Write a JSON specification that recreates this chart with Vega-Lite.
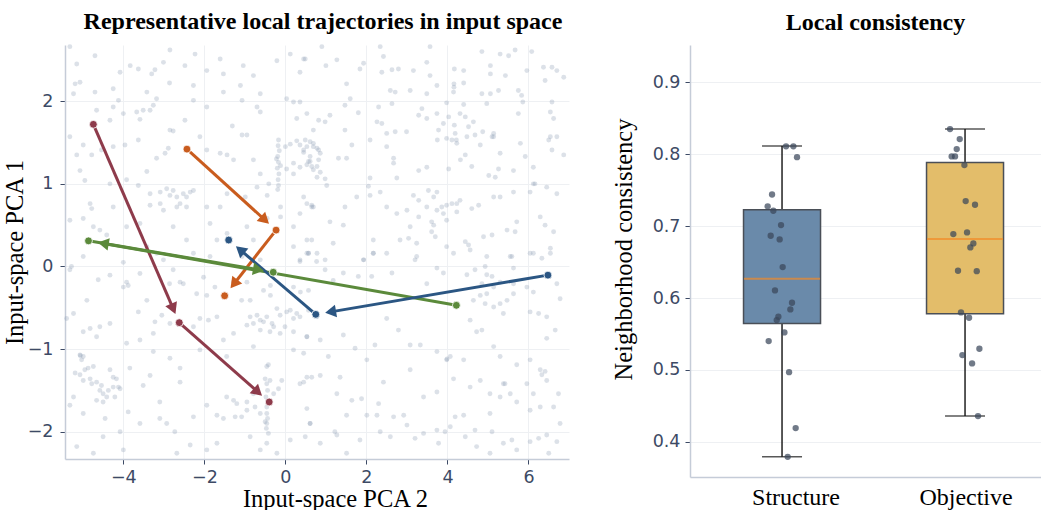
{
  "$schema": "https://vega.github.io/schema/vega-lite/v6.json",
  "padding": {"left": 2, "top": 10, "right": 0, "bottom": 0},
  "background": "white",
  "config": {
    "view": {"stroke": null},
    "axis": {
      "labelFont": "DejaVu Sans", "labelFontSize": 17.5, "labelColor": "#3d4a65", "labelPadding": 4,
      "titleFont": "Liberation Serif", "titleFontSize": 24.5, "titleFontWeight": "normal", "titleColor": "#000000",
      "domainColor": "#c5ccd8", "domainWidth": 1.5, "tickColor": "#3d4a65", "tickSize": 5,
      "gridColor": "#eef0f3", "gridWidth": 1
    },
    "title": {"font": "Liberation Serif", "fontSize": 24, "fontWeight": "bold", "color": "#000000", "offset": 10}
  },
  "datasets": {
    "bg": [
      {"x":-5.32,"y":2.66},{"x":-4.70,"y":2.55},{"x":-5.15,"y":2.45},{"x":-3.83,"y":2.43},{"x":-3.63,"y":2.39},{"x":-4.08,"y":2.35},{"x":-3.30,"y":2.33},{"x":-3.22,"y":2.38},{"x":-2.85,"y":2.62},{"x":-3.01,"y":2.47},{"x":-2.48,"y":2.43},{"x":-2.23,"y":2.57},{"x":-1.94,"y":2.37},{"x":-1.61,"y":2.51},{"x":-1.53,"y":2.33},{"x":-1.04,"y":2.43},{"x":-0.79,"y":2.31},{"x":0.12,"y":2.57},{"x":-0.21,"y":2.49},{"x":0.49,"y":2.51},{"x":0.36,"y":2.35},
      {"x":-5.07,"y":2.23},{"x":-5.19,"y":2.21},{"x":-5.23,"y":2.09},{"x":-4.70,"y":2.11},{"x":-4.25,"y":2.15},{"x":-2.86,"y":2.22},{"x":-3.42,"y":2.11},{"x":-2.27,"y":2.19},{"x":-1.53,"y":2.11},{"x":-1.11,"y":2.19},{"x":-0.62,"y":2.09},{"x":0.03,"y":2.03},{"x":0.20,"y":1.99},{"x":0.36,"y":1.99},
      {"x":-4.12,"y":2.01},{"x":-3.18,"y":2.03},{"x":-3.26,"y":1.95},{"x":-3.34,"y":1.89},{"x":-3.51,"y":1.89},{"x":-3.67,"y":1.87},{"x":-4.25,"y":1.93},{"x":-4.00,"y":1.85},{"x":-4.66,"y":1.89},{"x":-2.27,"y":2.01},{"x":-1.94,"y":1.93},{"x":-1.07,"y":2.01},{"x":-0.70,"y":1.93},{"x":-0.62,"y":1.87},{"x":0.28,"y":1.79},{"x":0.53,"y":1.85},
      {"x":-3.59,"y":1.78},{"x":-4.33,"y":1.77},{"x":-2.48,"y":1.77},{"x":-2.85,"y":1.65},{"x":-2.77,"y":1.64},{"x":-1.31,"y":1.70},{"x":-1.07,"y":1.59},{"x":-0.95,"y":1.59},
      {"x":-5.32,"y":1.57},{"x":-4.99,"y":1.47},{"x":-5.15,"y":1.35},{"x":-4.78,"y":1.35},{"x":-4.25,"y":1.45},{"x":-4.54,"y":1.41},{"x":-3.63,"y":1.53},{"x":-3.96,"y":1.47},{"x":-3.18,"y":1.31},{"x":-3.42,"y":1.15},{"x":-2.89,"y":1.43},{"x":-2.97,"y":1.37},{"x":-2.11,"y":1.57},{"x":-1.94,"y":1.41},{"x":-1.61,"y":1.37},{"x":-1.44,"y":1.35},{"x":-1.28,"y":1.29},{"x":-0.79,"y":1.29},
      {"x":-0.17,"y":1.53},{"x":-0.18,"y":1.46},{"x":-0.15,"y":1.40},{"x":-0.19,"y":1.33},{"x":-0.17,"y":1.26},{"x":-0.20,"y":1.19},{"x":-0.16,"y":1.12},{"x":-0.18,"y":1.05},{"x":-0.17,"y":0.98},{"x":-0.19,"y":0.93},{"x":-0.22,"y":1.30},{"x":-0.12,"y":1.22},
      {"x":0.0,"y":1.45},{"x":0.12,"y":1.48},{"x":0.28,"y":1.52},{"x":0.36,"y":1.47},{"x":0.53,"y":1.45},{"x":0.69,"y":1.49},{"x":0.78,"y":1.43},{"x":0.45,"y":1.38},{"x":0.20,"y":1.25},{"x":0.36,"y":1.20},{"x":0.53,"y":1.23},{"x":0.69,"y":1.17},{"x":0.61,"y":1.27},{"x":0.78,"y":1.21},
      {"x":-0.62,"y":1.12},{"x":-0.41,"y":1.0},{"x":0.03,"y":1.18},{"x":0.2,"y":1.12},{"x":0.53,"y":0.76},{"x":0.65,"y":0.72},
      {"x":-5.07,"y":1.16},{"x":-4.95,"y":1.04},{"x":-4.82,"y":0.76},{"x":-4.33,"y":1.0},{"x":-3.92,"y":1.05},{"x":-3.63,"y":0.98},{"x":-4.25,"y":0.72},{"x":-4.78,"y":0.70},
      {"x":-3.34,"y":0.88},{"x":-3.09,"y":0.90},{"x":-2.93,"y":0.94},{"x":-2.85,"y":0.86},{"x":-2.77,"y":0.92},{"x":-2.68,"y":0.84},{"x":-2.60,"y":0.76},{"x":-2.52,"y":0.88},{"x":-2.44,"y":0.84},{"x":-2.35,"y":0.90},{"x":-2.27,"y":0.92},{"x":-2.44,"y":0.72},{"x":-2.68,"y":0.72},{"x":-3.09,"y":0.76},{"x":-3.01,"y":0.68},{"x":-3.34,"y":0.74},
      {"x":-1.94,"y":0.72},{"x":-1.61,"y":0.72},{"x":-1.44,"y":0.88},{"x":-0.99,"y":0.84},{"x":-0.70,"y":0.96},{"x":-0.45,"y":0.86},{"x":-0.12,"y":0.72},{"x":0.36,"y":0.64},{"x":0.69,"y":0.72},
      {"x":-5.32,"y":0.56},{"x":-4.99,"y":0.58},{"x":-4.74,"y":0.48},{"x":-4.58,"y":0.44},{"x":-4.41,"y":0.38},{"x":-4.99,"y":0.12},{"x":-5.28,"y":0.0},{"x":-3.92,"y":0.48},{"x":-3.59,"y":0.52},{"x":-3.42,"y":0.24},{"x":-3.18,"y":0.16},{"x":-3.01,"y":0.08},{"x":-2.77,"y":0.48},{"x":-2.44,"y":0.32},{"x":-2.27,"y":0.16},{"x":-1.86,"y":0.52},{"x":-1.69,"y":0.32},{"x":-1.44,"y":0.40},{"x":-0.95,"y":0.48},{"x":-0.79,"y":0.32},{"x":-0.45,"y":0.58},{"x":-0.12,"y":0.60},{"x":0.20,"y":0.48},{"x":0.20,"y":0.24},{"x":0.53,"y":0.32},{"x":0.78,"y":0.16},{"x":0.36,"y":0.08},{"x":-1.86,"y":0.12},{"x":-1.07,"y":0.12},{"x":-0.62,"y":0.08},
      {"x":0.90,"y":2.66},{"x":0.45,"y":2.51},{"x":1.0,"y":2.43},{"x":1.27,"y":2.50},{"x":1.93,"y":2.46},{"x":1.84,"y":2.39},{"x":2.34,"y":2.66},{"x":2.42,"y":2.54},{"x":2.38,"y":2.35},{"x":2.63,"y":2.38},{"x":2.79,"y":2.39},{"x":3.16,"y":2.37},{"x":3.49,"y":2.47},{"x":3.57,"y":2.66},{"x":3.57,"y":2.31},{"x":3.74,"y":2.19},{"x":3.49,"y":2.09},
      {"x":4.17,"y":2.39},{"x":4.16,"y":2.21},{"x":4.16,"y":2.17},{"x":4.15,"y":2.11},{"x":4.40,"y":2.37},{"x":4.40,"y":2.22},{"x":4.85,"y":2.60},{"x":5.06,"y":2.43},{"x":5.30,"y":2.57},{"x":5.51,"y":2.55},{"x":5.67,"y":2.62},{"x":5.06,"y":2.33},{"x":5.43,"y":2.31},{"x":5.26,"y":2.13},{"x":5.06,"y":2.09},{"x":5.75,"y":2.13},{"x":5.83,"y":2.07},{"x":5.86,"y":1.99},{"x":6.08,"y":2.60},{"x":5.96,"y":2.37},{"x":6.37,"y":2.41},{"x":6.58,"y":2.41},{"x":6.70,"y":2.37},{"x":6.41,"y":2.25},{"x":6.87,"y":2.29},
      {"x":6.58,"y":1.99},{"x":6.54,"y":1.87},{"x":6.62,"y":1.79},{"x":6.54,"y":1.57},{"x":6.50,"y":1.53},{"x":6.70,"y":1.57},{"x":6.58,"y":1.41},{"x":5.75,"y":1.85},{"x":5.80,"y":1.49},{"x":5.92,"y":1.33},{"x":6.12,"y":1.20},{"x":6.16,"y":1.0},{"x":6.87,"y":1.35},{"x":5.10,"y":1.57},{"x":5.14,"y":1.61},{"x":5.30,"y":1.37},{"x":4.85,"y":2.09},{"x":4.97,"y":1.97},
      {"x":1.51,"y":2.21},{"x":1.60,"y":2.03},{"x":1.47,"y":1.95},{"x":1.80,"y":1.86},
      {"x":1.10,"y":1.83},{"x":0.98,"y":1.75},{"x":0.82,"y":1.77},{"x":0.69,"y":1.65},{"x":0.49,"y":1.53},{"x":0.45,"y":1.41},{"x":0.61,"y":1.51},{"x":0.69,"y":1.45},{"x":0.82,"y":1.41},{"x":0.86,"y":1.37},{"x":0.61,"y":1.33},{"x":0.57,"y":1.27},{"x":0.65,"y":1.21},{"x":0.82,"y":1.29},{"x":0.86,"y":1.14},{"x":0.98,"y":1.06},{"x":1.02,"y":0.98},{"x":0.78,"y":1.08},
      {"x":1.47,"y":1.65},{"x":1.51,"y":1.31},{"x":1.31,"y":1.31},{"x":1.64,"y":1.47},
      {"x":2.26,"y":1.75},{"x":2.38,"y":1.73},{"x":2.50,"y":1.61},{"x":2.71,"y":1.63},{"x":2.99,"y":1.63},{"x":2.09,"y":1.53},{"x":2.50,"y":1.45},{"x":2.67,"y":1.31},{"x":2.67,"y":1.25},{"x":2.59,"y":2.13},{"x":2.71,"y":2.11},{"x":2.63,"y":1.97},{"x":2.30,"y":1.93},{"x":3.08,"y":2.13},{"x":3.29,"y":1.83},
      {"x":3.37,"y":1.91},{"x":3.49,"y":1.79},{"x":3.74,"y":1.85},{"x":3.98,"y":1.98},{"x":4.03,"y":1.81},{"x":3.90,"y":1.73},{"x":3.78,"y":1.65},{"x":3.75,"y":1.53},{"x":3.98,"y":1.55},{"x":4.11,"y":1.53},{"x":4.17,"y":1.71},{"x":4.19,"y":1.61},{"x":4.22,"y":1.53},{"x":4.23,"y":1.49},{"x":4.31,"y":1.85},{"x":4.40,"y":1.96},{"x":4.44,"y":1.81},{"x":4.52,"y":1.69},{"x":4.64,"y":1.75},{"x":4.68,"y":1.59},{"x":4.48,"y":1.57},{"x":4.87,"y":1.63},{"x":4.81,"y":1.47},{"x":5.14,"y":1.57},
      {"x":3.29,"y":1.16},{"x":3.49,"y":1.20},{"x":4.03,"y":1.18},{"x":4.32,"y":1.29},{"x":4.44,"y":1.35},{"x":4.60,"y":1.21},{"x":5.02,"y":1.10},{"x":5.18,"y":1.08},{"x":5.26,"y":1.18},{"x":5.63,"y":1.16},
      {"x":2.09,"y":1.07},{"x":2.75,"y":1.07},{"x":2.05,"y":0.97},{"x":2.09,"y":0.86},
      {"x":2.34,"y":0.90},{"x":2.50,"y":0.72},{"x":2.75,"y":0.64},{"x":3.00,"y":0.68},{"x":3.16,"y":0.86},{"x":3.29,"y":0.80},{"x":3.49,"y":0.72},{"x":3.53,"y":0.92},{"x":3.66,"y":0.84},{"x":3.74,"y":0.90},{"x":3.86,"y":0.72},{"x":3.98,"y":0.74},{"x":4.11,"y":0.76},{"x":4.23,"y":0.76},{"x":3.90,"y":0.64},{"x":3.74,"y":0.68},{"x":3.61,"y":0.54},{"x":3.66,"y":0.50},{"x":3.70,"y":0.36},{"x":3.61,"y":0.42},{"x":3.98,"y":0.56},{"x":4.23,"y":0.66},{"x":4.31,"y":0.80},{"x":4.60,"y":0.70},{"x":4.77,"y":0.74},{"x":3.29,"y":0.60},{"x":3.08,"y":0.48},{"x":3.24,"y":0.28},{"x":2.83,"y":0.32},{"x":3.04,"y":0.34},
      {"x":5.14,"y":0.84},{"x":5.30,"y":0.84},{"x":5.63,"y":0.90},{"x":6.04,"y":0.90},{"x":6.12,"y":1.0},{"x":6.45,"y":0.96},{"x":6.70,"y":0.88},{"x":6.29,"y":0.60},{"x":6.41,"y":0.50},
      {"x":5.10,"y":0.38},{"x":5.47,"y":0.44},{"x":5.67,"y":0.42},{"x":5.59,"y":0.12},{"x":5.71,"y":0.54},{"x":6.04,"y":0.16},{"x":6.33,"y":0.10},{"x":6.54,"y":0.22},{"x":6.62,"y":0.42},
      {"x":0.45,"y":0.84},{"x":0.65,"y":0.74},{"x":1.18,"y":0.28},{"x":1.43,"y":0.50},{"x":1.47,"y":0.72},{"x":1.76,"y":0.84},{"x":2.17,"y":0.32},{"x":2.17,"y":0.16},{"x":1.10,"y":0.54},{"x":0.65,"y":0.32},{"x":0.57,"y":0.16},{"x":0.98,"y":0.08},{"x":1.93,"y":0.08},{"x":2.50,"y":0.16},{"x":3.24,"y":0.12},{"x":3.98,"y":0.24},{"x":4.44,"y":0.30},{"x":4.52,"y":0.26},{"x":4.56,"y":0.20},{"x":4.89,"y":0.36},{"x":4.97,"y":0.12},
      {"x":-4.33,"y":-0.105},{"x":-4.62,"y":-0.16},{"x":-3.92,"y":-0.19},{"x":-3.59,"y":-0.085},{"x":-3.88,"y":-0.23},{"x":-4.00,"y":-0.25},{"x":-2.86,"y":-0.21},{"x":-2.60,"y":-0.19},{"x":-2.52,"y":-0.21},{"x":-2.77,"y":-0.04},{"x":-4.00,"y":0.05},{"x":-2.02,"y":-0.13},{"x":-1.94,"y":-0.35},{"x":-2.19,"y":-0.33},{"x":-1.74,"y":-0.25},{"x":-1.28,"y":-0.19},{"x":-0.95,"y":-0.19},{"x":-1.08,"y":-0.41},{"x":-0.87,"y":-0.41},{"x":-0.54,"y":-0.29},{"x":-0.37,"y":-0.23},{"x":-0.37,"y":-0.35},{"x":0.20,"y":-0.25},{"x":0.37,"y":-0.31},{"x":0.57,"y":-0.29},{"x":0.57,"y":0.16},{"x":0.36,"y":0.06},
      {"x":-5.23,"y":-0.57},{"x":-5.40,"y":-0.63},{"x":-4.82,"y":-0.75},{"x":-4.58,"y":-0.73},{"x":-4.33,"y":-0.69},{"x":-4.99,"y":-0.79},{"x":-3.63,"y":-0.55},{"x":-3.22,"y":-0.67},{"x":-3.05,"y":-0.59},{"x":-2.27,"y":-0.73},{"x":-2.11,"y":-0.63},{"x":-1.90,"y":-0.65},{"x":-1.69,"y":-0.61},{"x":-1.53,"y":-0.89},{"x":-1.28,"y":-0.81},
      {"x":-0.87,"y":-0.61},{"x":-0.70,"y":-0.59},{"x":-0.62,"y":-0.65},{"x":-0.54,"y":-0.67},{"x":-0.46,"y":-0.61},{"x":-0.33,"y":-0.69},{"x":-0.29,"y":-0.73},{"x":-0.79,"y":-0.69},{"x":-0.95,"y":-0.71},{"x":-0.62,"y":-0.77},{"x":-0.38,"y":-0.79},{"x":-0.13,"y":-0.81},{"x":0.03,"y":-0.55},{"x":0.12,"y":-0.53},{"x":0.28,"y":-0.57},{"x":0.20,"y":-0.63},{"x":0.36,"y":-0.61},{"x":-0.13,"y":-0.59},{"x":-0.21,"y":-0.51},{"x":-0.01,"y":-0.73},{"x":0.20,"y":-0.79},{"x":0.53,"y":-0.85},{"x":0.57,"y":-0.53},{"x":0.78,"y":-0.61},
      {"x":-5.07,"y":-1.07},{"x":-4.99,"y":-1.09},{"x":-5.03,"y":-1.13},{"x":-5.06,"y":-1.08},
      {"x":-5.19,"y":-1.29},{"x":-5.07,"y":-1.31},{"x":-4.95,"y":-1.25},{"x":-4.87,"y":-1.23},{"x":-4.74,"y":-1.21},{"x":-4.99,"y":-1.38},{"x":-4.82,"y":-1.36},{"x":-4.78,"y":-1.42},{"x":-4.66,"y":-1.40},{"x":-4.54,"y":-1.44},{"x":-4.58,"y":-1.50},{"x":-4.50,"y":-1.54},{"x":-4.41,"y":-1.58},{"x":-4.37,"y":-1.50},{"x":-4.25,"y":-1.46},{"x":-4.17,"y":-1.36},{"x":-4.25,"y":-1.34},{"x":-4.33,"y":-1.25},{"x":-4.12,"y":-1.46},{"x":-4.08,"y":-1.48},{"x":-4.21,"y":-1.58},{"x":-4.66,"y":-1.62},{"x":-4.50,"y":-1.64},{"x":-5.23,"y":-1.58},
      {"x":-5.32,"y":-1.68},{"x":-4.99,"y":-1.78},{"x":-4.45,"y":-1.84},{"x":-3.88,"y":-1.76},{"x":-3.59,"y":-1.90},{"x":-3.10,"y":-1.84},{"x":-2.93,"y":-1.90},{"x":-2.73,"y":-2.00},{"x":-3.10,"y":-1.64},{"x":-3.34,"y":-1.32},{"x":-3.84,"y":-1.23},{"x":-3.51,"y":-1.44},{"x":-3.92,"y":-0.93},{"x":-3.59,"y":-0.89},{"x":-3.26,"y":-1.03},{"x":-2.85,"y":-1.11},{"x":-2.60,"y":-1.23},{"x":-2.60,"y":-1.40},{"x":-2.27,"y":-1.82},{"x":-1.94,"y":-1.68},{"x":-1.69,"y":-1.80},{"x":-1.53,"y":-1.84},{"x":-1.24,"y":-1.82},{"x":-1.08,"y":-1.82},{"x":-0.95,"y":-1.74},{"x":-0.75,"y":-1.70},{"x":-0.62,"y":-1.78},{"x":-1.45,"y":-1.58},{"x":-1.28,"y":-1.62},{"x":-1.20,"y":-1.66},{"x":-0.95,"y":-1.64},{"x":-0.79,"y":-1.54},{"x":-0.29,"y":-1.54},{"x":-0.17,"y":-1.48},
      {"x":-0.46,"y":-1.21},{"x":-0.42,"y":-1.19},{"x":-0.38,"y":-1.38},{"x":-0.50,"y":-1.36},{"x":-0.46,"y":-1.42},{"x":-0.44,"y":-1.50},{"x":-0.48,"y":-1.58},{"x":-0.46,"y":-1.70},{"x":-0.46,"y":-1.78},{"x":-0.50,"y":-1.88},{"x":-0.46,"y":-1.90},{"x":-0.42,"y":-2.02},{"x":-0.46,"y":-2.14},{"x":-0.44,"y":-1.84},{"x":-0.47,"y":-1.96},
      {"x":-0.09,"y":-1.38},{"x":0.36,"y":-1.42},{"x":0.53,"y":-1.34},{"x":0.86,"y":-1.32},{"x":0.61,"y":-1.90},{"x":0.49,"y":-2.06},{"x":0.12,"y":-2.10},{"x":-0.87,"y":-2.06},{"x":-1.69,"y":-2.14},{"x":-1.94,"y":-2.22},{"x":-2.68,"y":-2.26},{"x":-4.08,"y":-2.00},{"x":-4.50,"y":-2.06},{"x":-5.15,"y":-2.18},{"x":-4.74,"y":-2.26},{"x":-4.00,"y":-2.22},{"x":-2.35,"y":-2.16},{"x":-0.62,"y":-2.22},{"x":-0.21,"y":-2.26},
      {"x":-4.90,"y":-0.41},{"x":-5.32,"y":-0.04},{"x":-3.42,"y":-0.41},{"x":-2.85,"y":-0.69},{"x":-2.11,"y":-1.01},{"x":-1.45,"y":-1.09},{"x":-0.79,"y":-0.97},{"x":0.20,"y":-1.01},{"x":-4.66,"y":-0.85},{"x":-3.26,"y":-0.81},
      {"x":0.53,"y":0.16},{"x":0.77,"y":0.06},{"x":0.98,"y":-0.04},{"x":1.18,"y":-0.17},{"x":1.43,"y":-0.08},{"x":1.80,"y":-0.12},{"x":2.17,"y":0.16},{"x":2.13,"y":-0.12},{"x":2.63,"y":-0.08},{"x":1.93,"y":0.08},{"x":3.20,"y":0.08},{"x":3.49,"y":-0.21},{"x":3.74,"y":-0.02},{"x":3.90,"y":-0.08},{"x":4.15,"y":0.16},{"x":4.48,"y":-0.10},
      {"x":4.68,"y":-0.04},{"x":4.93,"y":0.0},{"x":4.97,"y":-0.10},{"x":5.10,"y":-0.12},{"x":4.85,"y":-0.21},{"x":4.97,"y":-0.33},{"x":4.81,"y":-0.35},{"x":4.64,"y":-0.41},{"x":5.14,"y":-0.25},{"x":5.30,"y":-0.19},{"x":5.63,"y":-0.21},{"x":5.63,"y":-0.33},{"x":5.47,"y":-0.41},{"x":5.30,"y":-0.45},{"x":5.14,"y":-0.49},{"x":5.38,"y":-0.57},{"x":5.96,"y":-0.25},{"x":6.12,"y":-0.31},{"x":6.04,"y":-0.55},{"x":6.25,"y":-0.57},{"x":5.55,"y":0.12},{"x":5.63,"y":-0.02},{"x":6.12,"y":0.16},{"x":6.54,"y":0.16},{"x":6.70,"y":-0.21},{"x":6.78,"y":-0.39},{"x":6.66,"y":-0.77},{"x":6.45,"y":-0.61},{"x":6.45,"y":-0.87},
      {"x":6.04,"y":-1.13},{"x":6.29,"y":-1.25},{"x":6.41,"y":-1.27},{"x":6.45,"y":-1.38},{"x":6.33,"y":-1.31},{"x":5.71,"y":-1.19},{"x":5.38,"y":-1.42},{"x":5.71,"y":-1.64},{"x":5.55,"y":-1.54},{"x":4.93,"y":-0.45},{"x":4.56,"y":-0.65},{"x":4.72,"y":-0.79},{"x":4.85,"y":-0.77},{"x":5.14,"y":-0.97},{"x":5.30,"y":-1.09},{"x":4.07,"y":-1.09},{"x":3.98,"y":-1.13},{"x":3.99,"y":-1.12},{"x":4.40,"y":-1.13},{"x":3.74,"y":-1.03},{"x":3.33,"y":-0.95},{"x":3.08,"y":-0.95},{"x":2.79,"y":-0.77},{"x":2.50,"y":-0.63},{"x":2.21,"y":-0.95},{"x":1.72,"y":-0.99},{"x":2.01,"y":-1.13},{"x":1.43,"y":-0.83},{"x":0.86,"y":-0.89},{"x":0.45,"y":-1.05},{"x":0.53,"y":-0.85},{"x":1.06,"y":-1.09},{"x":0.65,"y":-1.34},{"x":0.45,"y":-1.40},{"x":1.27,"y":-1.54},{"x":1.35,"y":-1.34},{"x":1.64,"y":-1.62},{"x":1.88,"y":-1.60},{"x":2.30,"y":-1.66},{"x":2.42,"y":-1.40},{"x":3.08,"y":-1.25},{"x":3.41,"y":-1.58},{"x":3.74,"y":-1.52},{"x":4.15,"y":-1.36},{"x":4.56,"y":-1.46},{"x":4.81,"y":-1.38},{"x":5.05,"y":-1.54},{"x":5.30,"y":-1.58},{"x":5.42,"y":-1.42},{"x":5.96,"y":-1.42},{"x":6.12,"y":-1.54},{"x":6.04,"y":-1.74},{"x":6.29,"y":-1.70},{"x":6.62,"y":-1.70},{"x":6.74,"y":-1.54},
      {"x":0.53,"y":-1.72},{"x":0.61,"y":-1.90},{"x":0.86,"y":-2.14},{"x":1.22,"y":-2.00},{"x":1.27,"y":-2.04},{"x":1.51,"y":-1.80},{"x":1.51,"y":-2.26},{"x":1.84,"y":-2.10},{"x":2.01,"y":-1.80},{"x":2.26,"y":-1.80},{"x":2.34,"y":-2.00},{"x":2.59,"y":-2.06},{"x":2.67,"y":-1.82},{"x":2.92,"y":-1.80},{"x":3.00,"y":-1.92},{"x":3.20,"y":-2.08},{"x":3.41,"y":-2.02},{"x":3.74,"y":-1.98},{"x":3.78,"y":-2.14},{"x":3.94,"y":-2.00},{"x":4.07,"y":-1.94},{"x":4.19,"y":-1.82},{"x":4.40,"y":-1.80},{"x":4.44,"y":-2.06},{"x":4.68,"y":-1.98},{"x":4.72,"y":-2.18},{"x":5.05,"y":-1.78},{"x":5.10,"y":-2.00},{"x":5.05,"y":-2.26},{"x":5.38,"y":-2.14},{"x":5.59,"y":-2.10},{"x":5.71,"y":-2.22},{"x":6.04,"y":-2.12},{"x":6.25,"y":-2.08},{"x":6.45,"y":-2.04},{"x":6.50,"y":-2.26},{"x":6.70,"y":-2.12},{"x":6.78,"y":-1.90}
    ],
    "segs": [
      {"traj":"maroon","x1":-4.74,"y1":1.72,"x2":-2.62,"y2":-0.68},
      {"traj":"maroon","x1":-2.62,"y1":-0.68,"x2":-0.40,"y2":-1.64},
      {"traj":"orange","x1":-2.43,"y1":1.42,"x2":-0.23,"y2":0.44},
      {"traj":"orange","x1":-0.23,"y1":0.44,"x2":-1.50,"y2":-0.355},
      {"traj":"green","x1":4.22,"y1":-0.47,"x2":-4.86,"y2":0.31},
      {"traj":"green","x1":-4.86,"y1":0.31,"x2":-0.30,"y2":-0.07},
      {"traj":"blue","x1":6.48,"y1":-0.105,"x2":0.75,"y2":-0.58},
      {"traj":"blue","x1":0.75,"y1":-0.58,"x2":-1.40,"y2":0.32}
    ],
    "dots": [
      {"traj":"maroon","x":-4.74,"y":1.72},{"traj":"maroon","x":-2.62,"y":-0.68},{"traj":"maroon","x":-0.40,"y":-1.64},
      {"traj":"orange","x":-2.43,"y":1.42},{"traj":"orange","x":-0.23,"y":0.44},{"traj":"orange","x":-1.50,"y":-0.355},
      {"traj":"green","x":4.22,"y":-0.47},{"traj":"green","x":-4.86,"y":0.31},{"traj":"green","x":-0.30,"y":-0.07},
      {"traj":"blue","x":6.48,"y":-0.105},{"traj":"blue","x":0.75,"y":-0.58},{"traj":"blue","x":-1.40,"y":0.32}
    ],
    "box": [
      {"method":"Structure","lo":0.379,"q1":0.5647,"med":0.6268,"q3":0.7228,"hi":0.8114},
      {"method":"Objective","lo":0.4357,"q1":0.578,"med":0.682,"q3":0.7887,"hi":0.835}
    ],
    "pts": [
      {"method":"Structure","v":0.811,"j":0.044},{"method":"Structure","v":0.811,"j":0.124},{"method":"Structure","v":0.796,"j":0.164},{"method":"Structure","v":0.744,"j":-0.109},{"method":"Structure","v":0.7275,"j":-0.157},{"method":"Structure","v":0.7214,"j":-0.095},{"method":"Structure","v":0.7015,"j":-0.011},{"method":"Structure","v":0.6866,"j":-0.124},{"method":"Structure","v":0.6815,"j":-0.026},{"method":"Structure","v":0.643,"j":0.007},{"method":"Structure","v":0.6106,"j":-0.077},{"method":"Structure","v":0.5934,"j":0.109},{"method":"Structure","v":0.5841,"j":0.091},{"method":"Structure","v":0.5739,"j":-0.04},{"method":"Structure","v":0.5693,"j":-0.058},{"method":"Structure","v":0.5521,"j":0.026},{"method":"Structure","v":0.5401,"j":-0.146},{"method":"Structure","v":0.4969,"j":0.077},{"method":"Structure","v":0.419,"j":0.149},{"method":"Structure","v":0.379,"j":0.062},
      {"method":"Objective","v":0.835,"j":-0.164},{"method":"Objective","v":0.8211,"j":-0.058},{"method":"Objective","v":0.8072,"j":-0.091},{"method":"Objective","v":0.797,"j":-0.146},{"method":"Objective","v":0.797,"j":-0.109},{"method":"Objective","v":0.785,"j":-0.007},{"method":"Objective","v":0.7349,"j":0.007},{"method":"Objective","v":0.7298,"j":0.109},{"method":"Objective","v":0.689,"j":-0.128},{"method":"Objective","v":0.6913,"j":0.022},{"method":"Objective","v":0.676,"j":0.091},{"method":"Objective","v":0.6704,"j":0.058},{"method":"Objective","v":0.6379,"j":-0.077},{"method":"Objective","v":0.6374,"j":0.128},{"method":"Objective","v":0.58,"j":-0.044},{"method":"Objective","v":0.5725,"j":0.044},{"method":"Objective","v":0.5294,"j":0.157},{"method":"Objective","v":0.5206,"j":-0.029},{"method":"Objective","v":0.509,"j":0.077},{"method":"Objective","v":0.4357,"j":0.142}
    ]
  },
  "hconcat": [
    {
      "width": 504, "height": 414,
      "title": {"text": "Representative local trajectories in input space", "dx": 6},
      "layer": [
        {
          "data": {"name": "bg"},
          "mark": {"type": "circle", "size": 24, "color": "#8a9ab2", "opacity": 0.3},
          "encoding": {
            "x": {"field": "x", "type": "quantitative", "scale": {"domain": [-5.44, 7.0], "nice": false, "zero": false},
                  "axis": {"title": "Input-space PCA 2", "values": [-4, -2, 0, 2, 4, 6], "format": "d", "grid": true, "titlePadding": 2, "titleX": 270}},
            "y": {"field": "y", "type": "quantitative", "scale": {"domain": [-2.33, 2.68], "nice": false, "zero": false},
                  "axis": {"title": "Input-space PCA 1", "values": [-2, -1, 0, 1, 2], "format": "d", "grid": true, "titlePadding": 0, "labelPadding": 7}}
          }
        },
        {
          "data": {"name": "segs"},
          "transform": [
            {"calculate": "sqrt(pow((datum.x2-datum.x1)*40.5,2)+pow((datum.y2-datum.y1)*82.6,2))", "as": "L"},
            {"calculate": "datum.x2-(datum.x2-datum.x1)*15/datum.L", "as": "hx"},
            {"calculate": "datum.y2-(datum.y2-datum.y1)*15/datum.L", "as": "hy"}
          ],
          "mark": {"type": "rule", "strokeWidth": 3},
          "encoding": {
            "x": {"field": "x1", "type": "quantitative"},
            "y": {"field": "y1", "type": "quantitative"},
            "x2": {"field": "hx"},
            "y2": {"field": "hy"},
            "color": {"field": "traj", "type": "nominal", "legend": null,
                      "scale": {"domain": ["maroon", "orange", "green", "blue"], "range": ["#8e3b4b", "#c95c1e", "#5b8a3b", "#2b5683"]}}
          }
        },
        {
          "data": {"name": "segs"},
          "transform": [
            {"calculate": "sqrt(pow((datum.x2-datum.x1)*40.5,2)+pow((datum.y2-datum.y1)*82.6,2))", "as": "L"},
            {"calculate": "datum.x2-(datum.x2-datum.x1)*15/datum.L", "as": "hx"},
            {"calculate": "datum.y2-(datum.y2-datum.y1)*15/datum.L", "as": "hy"},
            {"calculate": "atan2((datum.x2-datum.x1)*40.5,(datum.y2-datum.y1)*82.6)*180/PI", "as": "ang"}
          ],
          "mark": {"type": "point", "shape": "triangle-up", "filled": true, "size": 160, "opacity": 1},
          "encoding": {
            "x": {"field": "hx", "type": "quantitative"},
            "y": {"field": "hy", "type": "quantitative"},
            "angle": {"field": "ang", "type": "quantitative", "scale": null},
            "color": {"field": "traj", "type": "nominal", "legend": null}
          }
        },
        {
          "data": {"name": "dots"},
          "mark": {"type": "circle", "size": 62, "opacity": 1, "stroke": "white", "strokeWidth": 0.8},
          "encoding": {
            "x": {"field": "x", "type": "quantitative"},
            "y": {"field": "y", "type": "quantitative"},
            "color": {"field": "traj", "type": "nominal", "legend": null}
          }
        }
      ]
    },
    {
      "width": 351, "height": 432,
      "title": {"text": "Local consistency", "dx": 10},
      "encoding": {
        "x": {"field": "method", "type": "nominal", "sort": ["Structure", "Objective"],
              "scale": {"paddingInner": 0.5, "paddingOuter": 0.209, "align": 0.605},
              "axis": {"title": null, "labelAngle": 0, "ticks": false, "labelFont": "Liberation Serif", "labelFontSize": 24, "labelColor": "#000000", "labelPadding": 8,
                       "labelOffset": {"condition": {"test": "datum.value === 'Structure'", "value": 14}, "value": 1}}}
      },
      "layer": [
        {
          "data": {"name": "box"},
          "mark": {"type": "rule", "color": "#111111", "strokeWidth": 1.4},
          "encoding": {
            "y": {"field": "lo", "type": "quantitative", "scale": {"domain": [0.351, 0.952], "nice": false, "zero": false},
                  "axis": {"title": "Neighborhood consistency", "values": [0.4, 0.5, 0.6, 0.7, 0.8, 0.9], "format": ".1f", "grid": true, "titlePadding": 16, "labelPadding": 5, "titleY": 204}},
            "y2": {"field": "hi"}
          }
        },
        {
          "data": {"name": "box"},
          "mark": {"type": "bar", "width": 77, "stroke": "#4a4f57", "strokeWidth": 1.5},
          "encoding": {
            "y": {"field": "q1", "type": "quantitative"},
            "y2": {"field": "q3"},
            "fill": {"field": "method", "type": "nominal", "legend": null,
                     "scale": {"domain": ["Structure", "Objective"], "range": ["#6a8aaa", "#e3bd6a"]}}
          }
        },
        {
          "data": {"name": "box"},
          "mark": {"type": "tick", "color": "#f28a26", "thickness": 2, "size": 76},
          "encoding": {"y": {"field": "med", "type": "quantitative"}}
        },
        {
          "data": {"name": "box"},
          "mark": {"type": "tick", "color": "#111111", "thickness": 1.5, "size": 40},
          "encoding": {"y": {"field": "lo", "type": "quantitative"}}
        },
        {
          "data": {"name": "box"},
          "mark": {"type": "tick", "color": "#111111", "thickness": 1.5, "size": 40},
          "encoding": {"y": {"field": "hi", "type": "quantitative"}}
        },
        {
          "data": {"name": "pts"},
          "mark": {"type": "circle", "size": 40, "color": "#3a465a", "opacity": 0.72},
          "encoding": {
            "y": {"field": "v", "type": "quantitative"},
            "xOffset": {"field": "j", "type": "quantitative", "scale": {"domain": [-0.5, 0.5]}}
          }
        }
      ]
    }
  ],
  "spacing": 42
}
